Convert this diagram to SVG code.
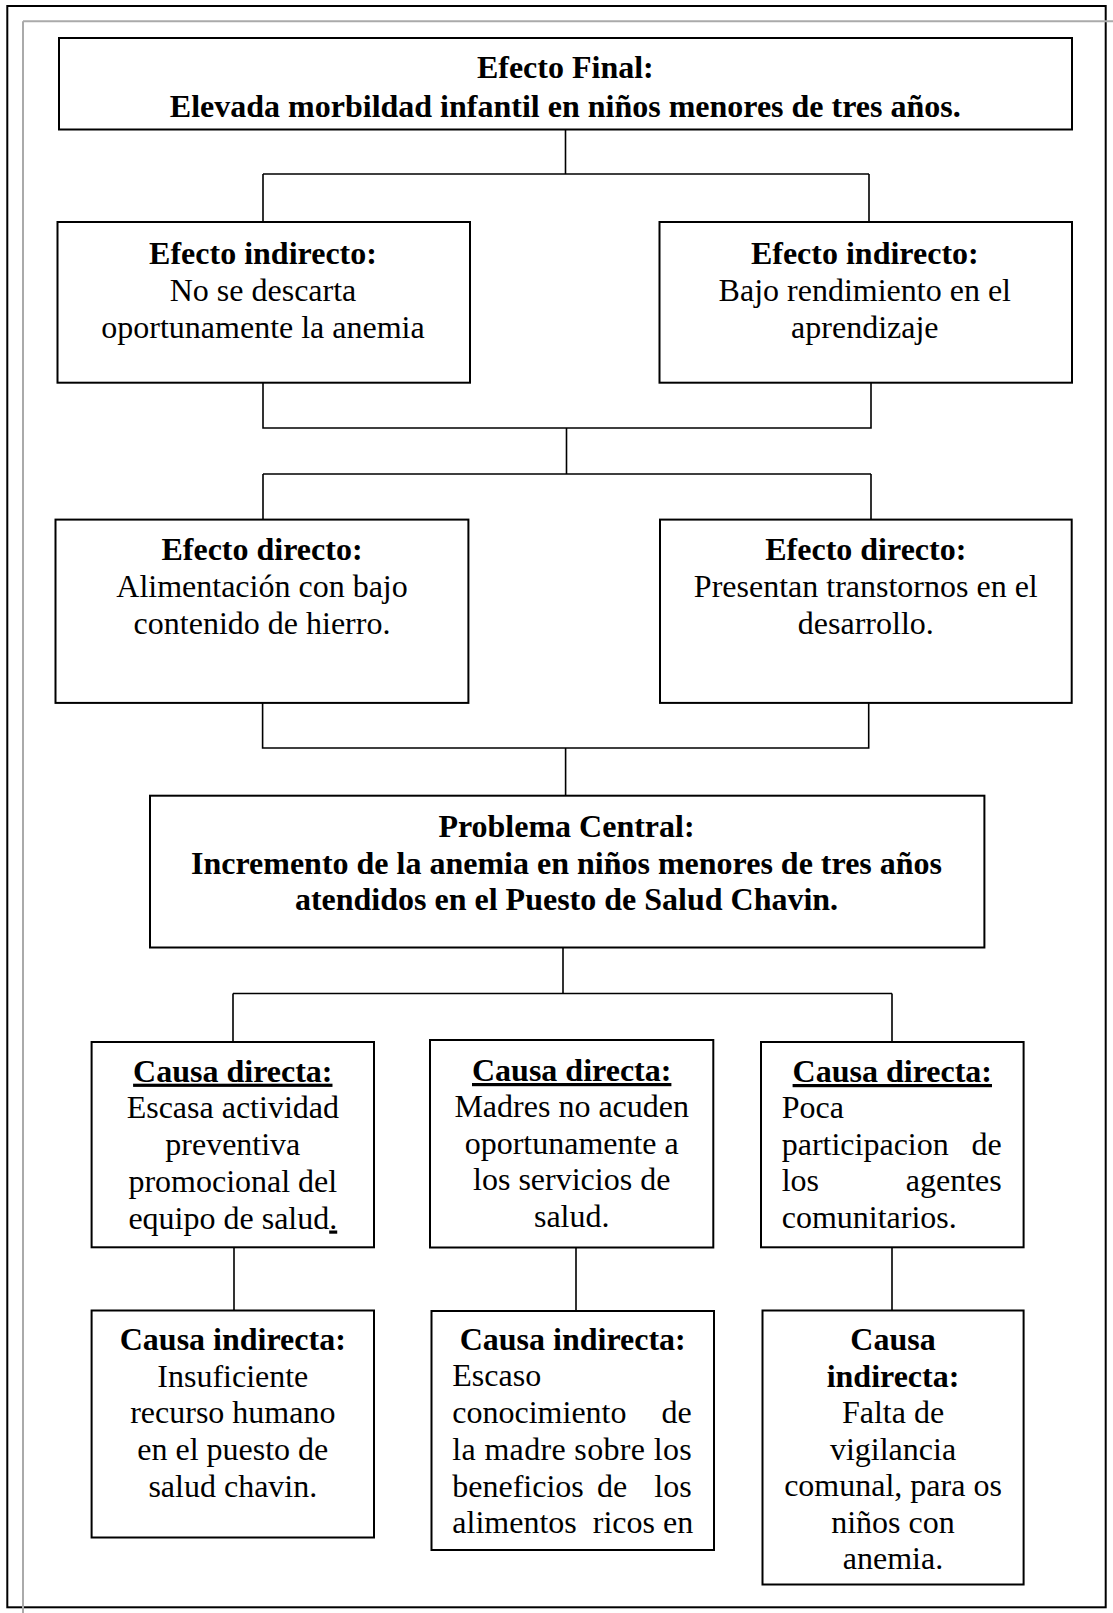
<svg xmlns="http://www.w3.org/2000/svg" width="1113" height="1613" viewBox="0 0 1113 1613">
<style>
  .box { fill: #fff; stroke: #000; stroke-width: 2; }
  .conn { fill: none; stroke: #000; stroke-width: 1.6; }
  text { font-family: "Liberation Serif", "Times New Roman", serif; font-size: 32px; fill: #000; }
  .b { font-weight: bold; }
  .c { text-anchor: middle; }
  .e { text-anchor: end; }
  .u { text-decoration: underline; }
</style>
<rect x="0" y="0" width="1113" height="1613" fill="#fff"/>
<g id="frame">
  <rect x="7.3" y="6" width="1098.4" height="1601.3" fill="none" stroke="#000" stroke-width="2"/>
  <path d="M23 21.3 H1113 M23 21.3 V1613" fill="none" stroke="#aaa" stroke-width="2"/>
</g>
<g id="connectors">
  <path class="conn" d="M565.5 129.5 V174 M263 174 H869 M263 174 V222 M869 174 V222"/>
  <path class="conn" d="M263 382.7 V428 H871 V382.7 M566.5 428 V474 M263 474 H871 M263 474 V519.6 M871 474 V519.6"/>
  <path class="conn" d="M262.6 702.9 V748 H868.7 V702.9 M565.6 748 V795.7"/>
  <path class="conn" d="M563 947.5 V993.5 M233 993.5 H892 M233 993.5 V1042 M892 993.5 V1042"/>
  <path class="conn" d="M234 1247.3 V1310.5 M576 1247.5 V1311 M892 1247.3 V1310.5"/>
</g>
<g id="efecto-final">
  <rect class="box" x="59" y="38" width="1013" height="91.5"/>
  <text class="b c" x="565.3" y="78">Efecto Final:</text>
  <text class="b c" x="565.3" y="117">Elevada morbildad infantil en niños menores de tres años.</text>
</g>
<g id="efecto-indirecto-1">
  <rect class="box" x="57.5" y="222" width="412.5" height="160.7"/>
  <text class="b c" x="263" y="263.5">Efecto indirecto:</text>
  <text class="c" x="263" y="300.5">No se descarta</text>
  <text class="c" x="263" y="337.5">oportunamente la anemia</text>
</g>
<g id="efecto-indirecto-2">
  <rect class="box" x="659.5" y="222" width="412.5" height="160.7"/>
  <text class="b c" x="864.8" y="263.5">Efecto indirecto:</text>
  <text class="c" x="864.8" y="300.5">Bajo rendimiento en el</text>
  <text class="c" x="864.8" y="337.5">aprendizaje</text>
</g>
<g id="efecto-directo-1">
  <rect class="box" x="55.5" y="519.6" width="412.9" height="183.3"/>
  <text class="b c" x="262" y="560">Efecto directo:</text>
  <text class="c" x="262" y="597">Alimentación con bajo</text>
  <text class="c" x="262" y="634">contenido de hierro.</text>
</g>
<g id="efecto-directo-2">
  <rect class="box" x="660" y="519.6" width="411.7" height="183.3"/>
  <text class="b c" x="865.8" y="560">Efecto directo:</text>
  <text class="c" x="865.8" y="597">Presentan transtornos en el</text>
  <text class="c" x="865.8" y="634">desarrollo.</text>
</g>
<g id="problema-central">
  <rect class="box" x="150" y="795.7" width="834.4" height="151.8"/>
  <text class="b c" x="566.5" y="837">Problema Central:</text>
  <text class="b c" x="566.5" y="873.5">Incremento de la anemia en niños menores de tres años</text>
  <text class="b c" x="566.5" y="910">atendidos en el Puesto de Salud Chavin.</text>
</g>
<g id="causa-directa-1">
  <rect class="box" x="91.6" y="1042" width="282.4" height="205.3"/>
  <text class="b c u" x="232.8" y="1081.7">Causa directa:</text>
  <text class="c" x="232.8" y="1118.4">Escasa actividad</text>
  <text class="c" x="232.8" y="1155.1">preventiva</text>
  <text class="c" x="232.8" y="1191.8">promocional del</text>
  <text class="c" x="232.8" y="1228.5">equipo de salud<tspan class="u">.</tspan></text>
</g>
<g id="causa-directa-2">
  <rect class="box" x="430" y="1040" width="283.3" height="207.5"/>
  <text class="b c u" x="571.7" y="1081">Causa directa:</text>
  <text class="c" x="571.7" y="1117">Madres no acuden</text>
  <text class="c" x="571.7" y="1153.5">oportunamente a</text>
  <text class="c" x="571.7" y="1190">los servicios de</text>
  <text class="c" x="571.7" y="1226.5">salud.</text>
</g>
<g id="causa-directa-3">
  <rect class="box" x="761" y="1042" width="262.6" height="205.3"/>
  <text class="b c u" x="892.3" y="1082">Causa directa:</text>
  <text x="781.7" y="1118.2">Poca</text>
  <text x="781.7" y="1154.5">participacion</text>
  <text class="e" x="1001.7" y="1154.5">de</text>
  <text x="781.7" y="1191">los</text>
  <text class="e" x="1001.7" y="1191">agentes</text>
  <text x="781.7" y="1227.5">comunitarios.</text>
</g>
<g id="causa-indirecta-1">
  <rect class="box" x="91.6" y="1310.5" width="282.4" height="227"/>
  <text class="b c" x="232.8" y="1350">Causa indirecta:</text>
  <text class="c" x="232.8" y="1386.7">Insuficiente</text>
  <text class="c" x="232.8" y="1423.4">recurso humano</text>
  <text class="c" x="232.8" y="1460">en el puesto de</text>
  <text class="c" x="232.8" y="1496.7">salud chavin.</text>
</g>
<g id="causa-indirecta-2">
  <rect class="box" x="431.5" y="1311" width="282.5" height="239"/>
  <text class="b c" x="572.7" y="1350">Causa indirecta:</text>
  <text x="452.3" y="1386">Escaso</text>
  <text x="452.3" y="1423">conocimiento</text>
  <text class="e" x="691.7" y="1423">de</text>
  <text x="452.3" y="1460" textLength="239.4" lengthAdjust="spacing">la madre sobre los</text>
  <text x="452.3" y="1496.7">beneficios</text>
  <text x="597" y="1496.7">de</text>
  <text class="e" x="691.7" y="1496.7">los</text>
  <text x="452.3" y="1533.3" xml:space="preserve">alimentos  ricos en</text>
</g>
<g id="causa-indirecta-3">
  <rect class="box" x="762.5" y="1310.5" width="261.1" height="274"/>
  <text class="b c" x="893" y="1350">Causa</text>
  <text class="b c" x="893" y="1386.5">indirecta:</text>
  <text class="c" x="893" y="1423">Falta de</text>
  <text class="c" x="893" y="1459.5">vigilancia</text>
  <text class="c" x="893" y="1496">comunal, para os</text>
  <text class="c" x="893" y="1532.5">niños con</text>
  <text class="c" x="893" y="1569">anemia.</text>
</g>
</svg>
